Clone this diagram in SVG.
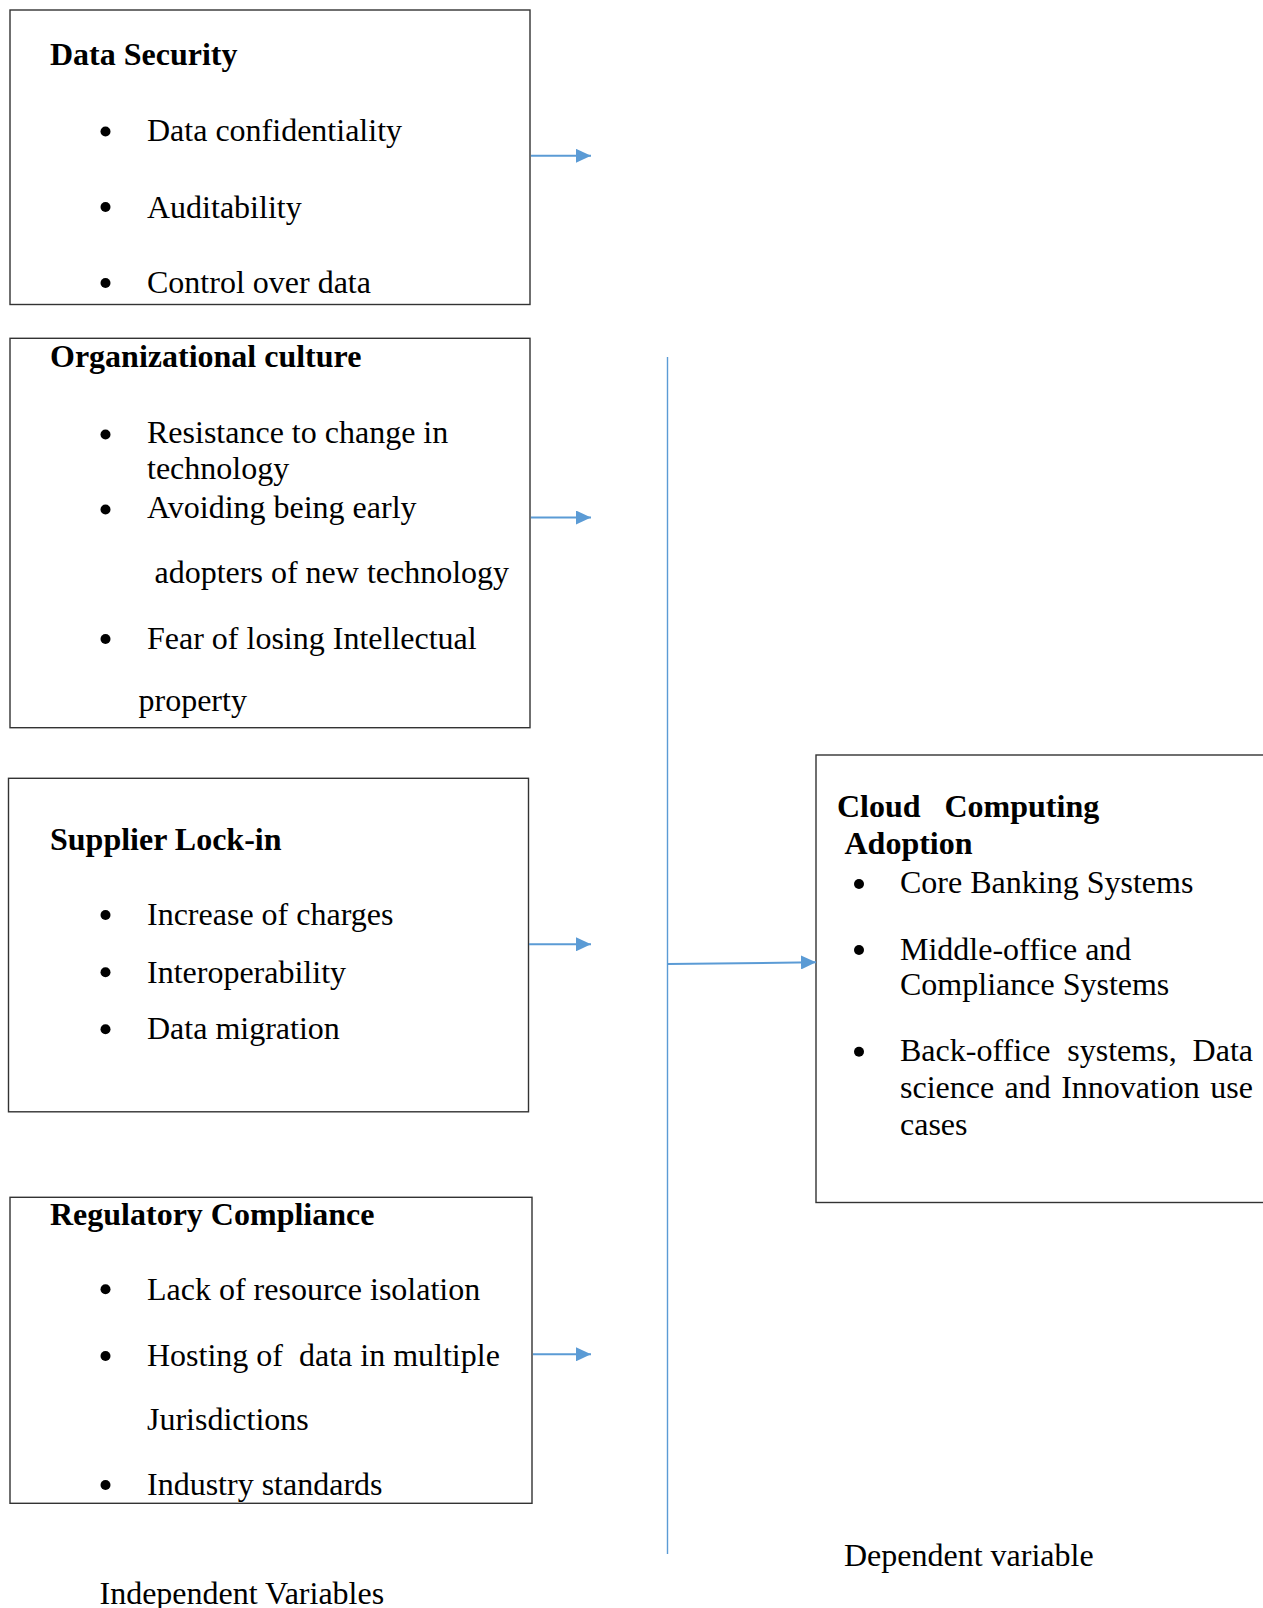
<svg xmlns="http://www.w3.org/2000/svg" width="1263" height="1608" viewBox="0 0 1263 1608">
<style>
  .box { fill: #ffffff; stroke: #333333; stroke-width: 1.4; }
  .t { font-family: "Liberation Serif", "Times New Roman", serif; font-size: 32px; fill: #000000; }
  .b { font-family: "Liberation Serif", "Times New Roman", serif; font-size: 32px; font-weight: bold; fill: #000000; }
  .dot { fill: #000000; }
  .conn { stroke: #5B9BD5; stroke-width: 2; fill: none; }
  .vline { stroke: #5B9BD5; stroke-width: 1.4; fill: none; }
</style>
<defs>
  <marker id="ah" markerWidth="16" markerHeight="14" refX="15" refY="7" orient="auto" markerUnits="userSpaceOnUse">
    <path d="M0,0 L15,7 L0,14 z" fill="#5B9BD5"/>
  </marker>
</defs>
<rect x="0" y="0" width="1263" height="1608" fill="#ffffff"/>

<g id="data-security">
  <rect class="box" x="10" y="10" width="520" height="294.5"/>
  <text class="b" x="50" y="65">Data Security</text>
  <circle class="dot" cx="105.5" cy="131.5" r="5"/>
  <text class="t" x="147" y="141">Data confidentiality</text>
  <circle class="dot" cx="105.5" cy="207" r="5"/>
  <text class="t" x="147" y="217.5">Auditability</text>
  <circle class="dot" cx="105.5" cy="283" r="5"/>
  <text class="t" x="147" y="293">Control over data</text>
</g>

<g id="organizational-culture">
  <rect class="box" x="10" y="338.3" width="520" height="389.4"/>
  <text class="b" x="50" y="367">Organizational culture</text>
  <circle class="dot" cx="105.5" cy="434.5" r="5"/>
  <text class="t" x="147" y="443">Resistance to change in</text>
  <text class="t" x="147" y="478.5">technology</text>
  <circle class="dot" cx="105.5" cy="509.5" r="5"/>
  <text class="t" x="147" y="518">Avoiding being early</text>
  <text class="t" x="154.5" y="582.5">adopters of new technology</text>
  <circle class="dot" cx="105.5" cy="639" r="5"/>
  <text class="t" x="147" y="648.5">Fear of losing Intellectual</text>
  <text class="t" x="138.5" y="711">property</text>
</g>

<g id="supplier-lock-in">
  <rect class="box" x="8.5" y="778.3" width="520" height="333.5"/>
  <text class="b" x="50" y="849.5">Supplier Lock-in</text>
  <circle class="dot" cx="105.5" cy="915" r="5"/>
  <text class="t" x="147" y="924.5">Increase of charges</text>
  <circle class="dot" cx="105.5" cy="972.3" r="5"/>
  <text class="t" x="147" y="982.5">Interoperability</text>
  <circle class="dot" cx="105.5" cy="1029.3" r="5"/>
  <text class="t" x="147" y="1039">Data migration</text>
</g>

<g id="regulatory-compliance">
  <rect class="box" x="10" y="1197.3" width="522" height="306"/>
  <text class="b" x="50" y="1224.5">Regulatory Compliance</text>
  <circle class="dot" cx="105.5" cy="1289.3" r="5"/>
  <text class="t" x="147" y="1299.5">Lack of resource isolation</text>
  <circle class="dot" cx="105.5" cy="1356" r="5"/>
  <text class="t" x="147" y="1365.5" xml:space="preserve">Hosting of  data in multiple</text>
  <text class="t" x="147" y="1429.5">Jurisdictions</text>
  <circle class="dot" cx="105.5" cy="1485" r="5"/>
  <text class="t" x="147" y="1494.5">Industry standards</text>
</g>

<g id="independent-label">
  <text class="t" x="99.5" y="1603.5">Independent Variables</text>
</g>

<g id="cloud-computing-adoption">
  <rect class="box" x="816" y="755" width="460" height="447.5"/>
  <text class="b" x="837" y="817">Cloud</text>
  <text class="b" x="944.5" y="817">Computing</text>
  <text class="b" x="844.5" y="854">Adoption</text>
  <circle class="dot" cx="859" cy="884" r="5"/>
  <text class="t" x="900" y="893">Core Banking Systems</text>
  <circle class="dot" cx="859" cy="950" r="5"/>
  <text class="t" x="900" y="959.5">Middle-office and</text>
  <text class="t" x="900" y="995">Compliance Systems</text>
  <circle class="dot" cx="859" cy="1051.7" r="5"/>
  <text class="t" x="900" y="1061">Back-office</text>
  <text class="t" x="1067.3" y="1061">systems,</text>
  <text class="t" x="1253" y="1061" text-anchor="end">Data</text>
  <text class="t" x="900" y="1098">science</text>
  <text class="t" x="1004.6" y="1098">and</text>
  <text class="t" x="1061.2" y="1098">Innovation</text>
  <text class="t" x="1253" y="1098" text-anchor="end">use</text>
  <text class="t" x="900" y="1135">cases</text>
</g>

<g id="dependent-label">
  <text class="t" x="844" y="1566">Dependent variable</text>
</g>

<g id="connectors">
  <line class="conn" x1="531" y1="155.8" x2="591" y2="155.8" marker-end="url(#ah)"/>
  <line class="conn" x1="531" y1="517.5" x2="591" y2="517.5" marker-end="url(#ah)"/>
  <line class="conn" x1="529" y1="944.3" x2="591" y2="944.3" marker-end="url(#ah)"/>
  <line class="conn" x1="533" y1="1354.3" x2="591" y2="1354.3" marker-end="url(#ah)"/>
  <line class="vline" x1="667.5" y1="357" x2="667.5" y2="1554"/>
  <line class="conn" x1="667.5" y1="964" x2="816" y2="962.3" marker-end="url(#ah)"/>
</g>
</svg>
